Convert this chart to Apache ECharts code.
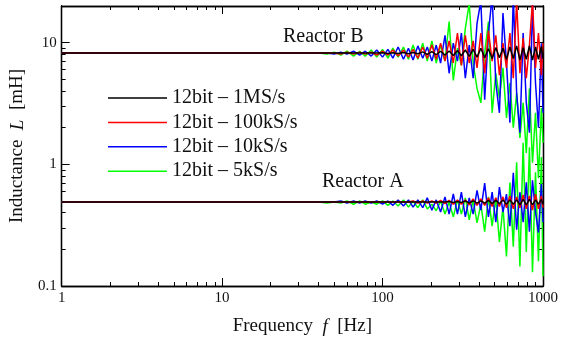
<!DOCTYPE html>
<html><head><meta charset="utf-8">
<script src="https://cdn.jsdelivr.net/npm/echarts@6/dist/echarts.min.js"></script>
<style>html,body{margin:0;padding:0;background:#fff}#c{width:561px;height:344px}</style>
</head><body><div id="c"></div>
<script>
// Frequency points [Hz]
const freq = [1, 3, 10, 30, 40, 45, 50, 55, 60, 66,
  72, 78, 85, 92, 100, 108, 116, 125, 135, 145,
  155, 166, 178, 190, 203, 216, 230, 245, 260, 276,
  293, 310, 328, 347, 367, 388, 410, 433, 457, 482,
  508, 535, 563, 592, 622, 653, 685, 718, 752, 787,
  823, 860, 898, 937, 977, 1000];

// Reactor B [mH]
const bBlack = [8.2, 8.2, 8.2, 8.2, 8.2, 8.2, 8.2, 8.2, 8.2, 8.2,
  8.2, 8.2, 8.2, 8.2, 8.25, 8.15, 8.25, 8.15, 8.3, 8.1,
  8.3, 8.1, 8.4, 8.0, 8.45, 7.95, 8.5, 7.9, 8.55, 7.85,
  8.6, 7.8, 8.7, 7.7, 8.8, 7.6, 9.0, 7.5, 8.9, 7.4,
  9.1, 7.5, 9.0, 7.3, 9.2, 7.4, 9.4, 7.2, 9.1, 7.3,
  9.4, 7.2, 9.2, 7.3, 9.3, 7.4];
const bRed = [8.2, 8.2, 8.2, 8.2, 8.2, 8.2, 8.2, 8.05, 8.35, 8.05,
  8.35, 8.05, 8.35, 7.9, 8.5, 7.9, 8.7, 7.75, 8.7, 7.6,
  8.8, 7.45, 9.2, 7.45, 9.55, 7.3, 9.9, 7.05, 10.35, 6.8,
  12.0, 6.5, 11.5, 6.8, 10.35, 6.2, 12.0, 5.6, 12.5, 7.05,
  11.5, 5.4, 9.9, 6.2, 12.0, 5.1, 22, 5.6, 10.9, 5.1,
  9.55, 22, 6.2, 12.0, 5.4, 9.9];
const bBlue = [8.2, 8.2, 8.2, 8.2, 8.2, 8.2, 8.05, 8.35, 8.05, 8.5,
  7.9, 8.5, 7.75, 8.7, 7.6, 8.8, 7.45, 9.2, 7.3, 9.0,
  7.2, 9.4, 7.45, 9.2, 7.05, 9.55, 6.8, 11.5, 5.6, 9.9,
  7.05, 12.0, 5.1, 9.55, 5.1, 14.4, 22, 3.4, 12.0, 24,
  4.66, 2.65, 17.5, 6.8, 2.2, 24, 3.85, 1.82, 12.0, 3.2,
  1.82, 20.5, 4.66, 2.0, 9.9, 2.65];
const bGreen = [8.2, 8.2, 8.2, 8.2, 8.2, 8.05, 8.35, 7.9, 8.5, 7.75,
  8.5, 7.75, 8.7, 7.6, 8.8, 7.45, 9.0, 7.6, 9.2, 7.3,
  9.55, 7.3, 9.9, 7.05, 10.35, 6.8, 9.55, 7.05, 14.9, 4.9,
  9.0, 6.5, 13.1, 21, 6.8, 4.2, 3.2, 8.2, 14.9, 2.65,
  5.6, 3.5, 6.2, 2.4, 4.66, 2.0, 3.85, 1.65, 3.2, 1.24,
  4.2, 1.03, 2.65, 0.77, 2.9, 1.5];

// Reactor A [mH]
const aBlack = [0.49, 0.49, 0.49, 0.49, 0.49, 0.49, 0.49, 0.49, 0.49, 0.49,
  0.49, 0.49, 0.49, 0.49, 0.49, 0.49, 0.49, 0.49, 0.49, 0.49,
  0.49, 0.49, 0.49, 0.49, 0.49, 0.49, 0.49, 0.49, 0.495, 0.485,
  0.495, 0.485, 0.50, 0.48, 0.50, 0.48, 0.50, 0.48, 0.505, 0.475,
  0.505, 0.475, 0.51, 0.47, 0.51, 0.47, 0.51, 0.465, 0.515, 0.465,
  0.515, 0.465, 0.51, 0.47, 0.515, 0.47];
const aRed = [0.49, 0.49, 0.49, 0.49, 0.49, 0.49, 0.49, 0.49, 0.49, 0.49,
  0.49, 0.49, 0.49, 0.49, 0.49, 0.49, 0.49, 0.49, 0.49, 0.49,
  0.50, 0.48, 0.50, 0.48, 0.50, 0.48, 0.505, 0.475, 0.505, 0.47,
  0.51, 0.47, 0.51, 0.465, 0.52, 0.46, 0.52, 0.46, 0.53, 0.45,
  0.53, 0.45, 0.54, 0.44, 0.55, 0.43, 0.54, 0.44, 0.56, 0.43,
  0.55, 0.42, 0.57, 0.43, 0.55, 0.44];
const aBlue = [0.49, 0.49, 0.49, 0.49, 0.49, 0.49, 0.49, 0.50, 0.48, 0.50,
  0.48, 0.50, 0.48, 0.50, 0.47, 0.50, 0.46, 0.51, 0.455, 0.51,
  0.445, 0.51, 0.44, 0.53, 0.42, 0.51, 0.405, 0.54, 0.39, 0.57,
  0.39, 0.59, 0.37, 0.53, 0.39, 0.61, 0.42, 0.70, 0.37, 0.59,
  0.335, 0.65, 0.405, 0.57, 0.31, 0.85, 0.29, 0.59, 0.335, 0.71,
  0.28, 0.74, 0.405, 0.275, 0.69, 0.335];
const aGreen = [0.49, 0.49, 0.49, 0.49, 0.49, 0.48, 0.49, 0.48, 0.50, 0.47,
  0.50, 0.47, 0.49, 0.47, 0.50, 0.46, 0.50, 0.455, 0.51, 0.445,
  0.50, 0.44, 0.51, 0.43, 0.47, 0.415, 0.50, 0.39, 0.49, 0.37,
  0.51, 0.39, 0.53, 0.35, 0.51, 0.33, 0.47, 0.28, 0.54, 0.31,
  0.53, 0.23, 0.445, 0.175, 0.71, 0.21, 1.04, 0.145, 1.5, 0.19,
  1.38, 0.13, 0.86, 0.16, 1.15, 0.12];

const seriesNames = ['12bit \u2013 1MS/s', '12bit \u2013 100kS/s', '12bit \u2013 10kS/s', '12bit \u2013 5kS/s'];
const seriesColors = ['#000000', '#ff0000', '#0000ff', '#00ff00'];

const xMajor = [1, 10, 100, 1000];
const xMinor = [2, 3, 4, 5, 6, 7, 8, 9, 20, 30, 40, 50, 60, 70, 80, 90, 200, 300, 400, 500, 600, 700, 800, 900];
const yMajor = [0.1, 1, 10];
const yMinor = [0.2, 0.3, 0.4, 0.5, 0.6, 0.7, 0.8, 0.9, 2, 3, 4, 5, 6, 7, 8, 9, 20];

const serif = 'Liberation Serif';
const pair = v => freq.map((f, i) => [f, v[i]]);

function axis(dim, pos, ticks, len, labels, extra) {
  const o = {
    type: 'log', logBase: 10, position: pos,
    min: dim === 'x' ? 1 : 0.1, max: dim === 'x' ? 1000 : 20,
    axisLine: { show: true, lineStyle: { color: '#000', width: 1.3 } },
    axisTick: { show: true, inside: true, length: len, customValues: ticks, lineStyle: { color: '#000', width: 1 } },
    axisLabel: labels ? { show: true, customValues: ticks, formatter: v => String(v), fontFamily: serif, fontSize: 15, color: '#111', margin: 5 } : { show: false },
    splitLine: { show: false }, minorTick: { show: false }, minorSplitLine: { show: false }
  };
  return Object.assign(o, extra || {});
}

const xName = {
  name: 'Frequency  {i|f}  [Hz]', nameLocation: 'middle', nameGap: 31,
  nameTextStyle: { fontFamily: serif, fontSize: 19, color: '#111', rich: { i: { fontFamily: serif, fontSize: 19, fontStyle: 'italic', color: '#111' } } }
};
const yName = {
  name: 'Inductance  {i|L}  [mH]', nameLocation: 'middle', nameGap: 32,
  nameTextStyle: { fontFamily: serif, fontSize: 19, color: '#111', rich: { i: { fontFamily: serif, fontSize: 19, fontStyle: 'italic', color: '#111' } } }
};

const groups = [
  [bGreen, aGreen, 3], [bBlue, aBlue, 2], [bRed, aRed, 1], [bBlack, aBlack, 0]
];
const series = [];
groups.forEach(([b, a, k]) => {
  [b, a].forEach(v => series.push({
    type: 'line', name: seriesNames[k], data: pair(v), xAxisIndex: 0, yAxisIndex: 0,
    showSymbol: false, symbol: 'none', color: seriesColors[k],
    lineStyle: { color: seriesColors[k], width: 1.5 }, animation: false
  }));
});

const chart = echarts.init(document.getElementById('c'), null, { renderer: 'canvas' });
chart.setOption({
  animation: false,
  backgroundColor: '#fff',
  grid: { left: 60, right: 18, top: 6, bottom: 58, containLabel: false },
  xAxis: [
    axis('x', 'bottom', xMajor, 8, true, xName),
    axis('x', 'bottom', xMinor, 4, false),
    axis('x', 'top', xMajor, 8, false),
    axis('x', 'top', xMinor, 4, false)
  ],
  yAxis: [
    axis('y', 'left', yMajor, 8, true, yName),
    axis('y', 'left', yMinor, 4, false),
    axis('y', 'right', yMajor, 8, false),
    axis('y', 'right', yMinor, 4, false)
  ],
  legend: {
    data: seriesNames, orient: 'vertical', left: 103, top: 83, itemGap: 4.4,
    itemWidth: 59, itemHeight: 1.5, icon: 'rect', selectedMode: false,
    textStyle: { fontFamily: serif, fontSize: 20, color: '#111', lineHeight: 20 }
  },
  graphic: [
    { type: 'text', left: 283, top: 27, style: { text: 'Reactor B', fontFamily: serif, fontSize: 20, fill: '#111' } },
    { type: 'text', left: 322, top: 172, style: { text: 'Reactor A', fontFamily: serif, fontSize: 20, fill: '#111' } }
  ],
  series: series
});
</script></body></html>
